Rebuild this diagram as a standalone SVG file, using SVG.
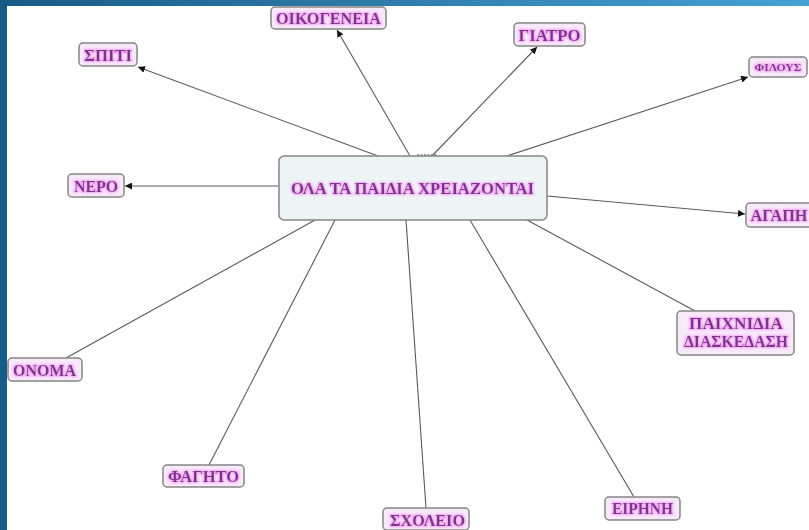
<svg xmlns="http://www.w3.org/2000/svg" width="809" height="530" viewBox="0 0 809 530">
<defs>
<linearGradient id="topbar" x1="0" y1="0" x2="1" y2="0">
<stop offset="0" stop-color="#1a5a85"/>
<stop offset="1" stop-color="#46a1d5"/>
</linearGradient>
<marker id="arr" viewBox="0 0 10 10" refX="10" refY="5" markerWidth="7" markerHeight="7" markerUnits="userSpaceOnUse" orient="auto">
<path d="M0,0 L10,5 L0,10 z" fill="#111"/>
</marker>
<filter id="glow" x="-10%" y="-40%" width="120%" height="180%">
<feMorphology in="SourceAlpha" operator="dilate" radius="0.8" result="d"/>
<feGaussianBlur in="d" stdDeviation="1.2" result="b"/>
<feFlood flood-color="#f2a2f2"/>
<feComposite in2="b" operator="in" result="g"/>
<feMerge><feMergeNode in="g"/><feMergeNode in="SourceGraphic"/></feMerge>
</filter>
</defs>
<style>
.box{fill:#f8e9fa;stroke:#858585;stroke-width:1.5}
.cbox{fill:#eef4f6;stroke:#858585;stroke-width:1.5}
.t{font-family:"Liberation Serif","Times New Roman",serif;font-weight:bold;fill:#7e338e;text-anchor:middle;dominant-baseline:central;filter:url(#glow)}
.c{stroke:#5a5a5a;stroke-width:1.1;fill:none}
.a{marker-end:url(#arr)}
</style>
<rect x="0" y="0" width="809" height="530" fill="#ffffff"/>
<rect x="0" y="0" width="809" height="6" fill="url(#topbar)"/>
<rect x="0" y="0" width="7" height="530" fill="#175c86"/>

<g id="connectors">
<line class="c a" x1="378" y1="156" x2="138" y2="67"/>
<line class="c a" x1="410" y1="156" x2="337" y2="30"/>
<line class="c a" x1="432" y1="156" x2="537" y2="47"/>
<line class="c a" x1="507" y1="156" x2="748" y2="77"/>
<line class="c a" x1="279" y1="186" x2="125" y2="186"/>
<line class="c a" x1="547" y1="196" x2="745" y2="214"/>
<line class="c" x1="527" y1="220" x2="695" y2="311"/>
<line class="c" x1="470" y1="220" x2="634" y2="497"/>
<line class="c" x1="406" y1="220" x2="426" y2="508"/>
<line class="c" x1="335" y1="220" x2="209" y2="465"/>
<line class="c" x1="315" y1="220" x2="66" y2="358"/>
<line x1="417" y1="155" x2="437" y2="155" stroke="#777" stroke-width="1.5" stroke-dasharray="2,1.5"/>
</g>

<g id="center">
<rect class="cbox" x="279" y="156" width="268" height="64" rx="5"/>
<text class="t" x="412.5" y="188" font-size="17.5" textLength="243" lengthAdjust="spacingAndGlyphs">ΟΛΑ ΤΑ ΠΑΙΔΙΑ ΧΡΕΙΑΖΟΝΤΑΙ</text>
</g>
<g id="spiti">
<rect class="box" x="79" y="43" width="58" height="23" rx="4"/>
<text class="t" x="108" y="55" font-size="16" textLength="48" lengthAdjust="spacingAndGlyphs">ΣΠΙΤΙ</text>
</g>
<g id="oikogeneia">
<rect class="box" x="271" y="7" width="115" height="22" rx="4"/>
<text class="t" x="328.5" y="18" font-size="16" textLength="105" lengthAdjust="spacingAndGlyphs">ΟΙΚΟΓΕΝΕΙΑ</text>
</g>
<g id="giatro">
<rect class="box" x="514" y="23" width="71" height="23" rx="4"/>
<text class="t" x="549.5" y="35" font-size="16" textLength="62" lengthAdjust="spacingAndGlyphs">ΓΙΑΤΡΟ</text>
</g>
<g id="filous">
<rect class="box" x="749" y="57" width="58" height="20" rx="4"/>
<text class="t" x="778" y="67" font-size="11" textLength="47" lengthAdjust="spacingAndGlyphs">ΦΙΛΟΥΣ</text>
</g>
<g id="nero">
<rect class="box" x="68" y="174" width="56" height="23" rx="4"/>
<text class="t" x="96" y="186" font-size="16" textLength="44" lengthAdjust="spacingAndGlyphs">ΝΕΡΟ</text>
</g>
<g id="agapi">
<rect class="box" x="746" y="203" width="68" height="24" rx="4"/>
<text class="t" x="779" y="215" font-size="16" textLength="57" lengthAdjust="spacingAndGlyphs">ΑΓΑΠΗ</text>
</g>
<g id="paixnidia">
<rect class="box" x="677" y="311" width="117" height="44" rx="4"/>
<text class="t" x="736" y="323" font-size="16" textLength="94" lengthAdjust="spacingAndGlyphs">ΠΑΙΧΝΙΔΙΑ</text>
<text class="t" x="736" y="341" font-size="16" textLength="104" lengthAdjust="spacingAndGlyphs">ΔΙΑΣΚΕΔΑΣΗ</text>
</g>
<g id="onoma">
<rect class="box" x="8" y="358" width="74" height="23" rx="4"/>
<text class="t" x="44.5" y="370" font-size="16" textLength="63" lengthAdjust="spacingAndGlyphs">ΟΝΟΜΑ</text>
</g>
<g id="fagito">
<rect class="box" x="163" y="465" width="81" height="22" rx="4"/>
<text class="t" x="203.5" y="476" font-size="16" textLength="71" lengthAdjust="spacingAndGlyphs">ΦΑΓΗΤΟ</text>
</g>
<g id="sxoleio">
<rect class="box" x="383" y="508" width="86" height="22" rx="4"/>
<text class="t" x="427.5" y="520" font-size="16" textLength="75" lengthAdjust="spacingAndGlyphs">ΣΧΟΛΕΙΟ</text>
</g>
<g id="eirini">
<rect class="box" x="605" y="497" width="75" height="23" rx="4"/>
<text class="t" x="642.5" y="508.5" font-size="16" textLength="61" lengthAdjust="spacingAndGlyphs">ΕΙΡΗΝΗ</text>
</g>
</svg>
